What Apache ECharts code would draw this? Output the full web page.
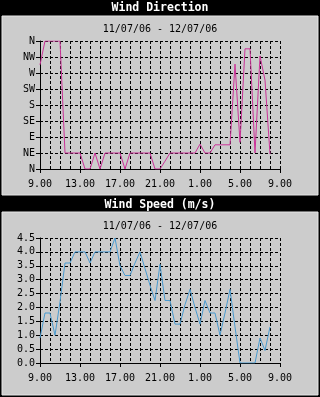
<!DOCTYPE html>
<html><head><meta charset="utf-8">
<script src="https://cdn.jsdelivr.net/npm/echarts@6/dist/echarts.min.js"></script>
<style>html,body{margin:0;padding:0;background:#000}#c{width:320px;height:397px}</style>
</head><body><div id="c"></div>
<script>
// hours after 09:00 on 11/07/06
var hours = [0,0.5,1,1.5,2,2.5,3,3.5,4,4.5,5,5.5,6,6.5,7,7.5,8,8.5,9,9.5,10,10.5,11,11.5,12,12.5,13,13.5,14,14.5,15,15.5,16,16.5,17,17.5,18,18.5,19,19.5,20,20.5,21,21.5,22,22.5,23];
var dirValues = [293,360,360,360,360,45,45,45,45,0,0,45,0,45,45,45,45,0,45,45,45,45,45,0,0,22,45,45,45,45,45,45,70,45,45,68,68,68,68,295,75,338,338,45,318,250,42];
var speedValues = [0.9,1.8,1.8,1.0,2.2,3.6,3.6,4.0,4.0,4.0,3.6,4.0,4.0,4.0,4.0,4.5,3.5,3.15,3.15,3.6,4.0,3.4,2.8,2.25,3.55,2.25,2.25,1.4,1.4,2.1,2.65,2.0,1.4,2.25,1.8,1.8,1.0,1.8,2.65,1.3,0,0,0,0,0.9,0.45,1.3];
var xTickLabels = ['9.00','13.00','17.00','21.00','1.00','5.00','9.00'];
var dirLabels = ['N','NE','E','SE','S','SW','W','NW','N'];
var titles = ['Wind Direction','Wind Speed (m/s)'];
var subtitle = '11/07/06 - 12/07/06';

var mono = 'DejaVu Sans Mono';
function pair(a,b){return a.map(function(v,i){return [v,b[i]];});}
function gridAxis(gi){
  return {type:'value',gridIndex:gi,min:0,max:24,interval:1,
    axisLine:{show:true,onZero:false,lineStyle:{color:'#000',width:1}},
    axisTick:{show:false},axisLabel:{show:false},
    splitLine:{show:true,lineStyle:{color:'#000',type:[3,2],width:1}}};
}
function labelAxis(gi){
  return {type:'value',gridIndex:gi,position:'bottom',min:0,max:24,interval:4,
    axisLine:{show:false,onZero:false},
    axisTick:{show:true,length:4,lineStyle:{color:'#000'}},
    axisLabel:{margin:10,color:'#000',fontFamily:mono,fontSize:10,
      formatter:function(v){return xTickLabels[Math.round(v/4)];}},
    splitLine:{show:false}};
}
var chart = echarts.init(document.getElementById('c'),null,{renderer:'canvas'});
chart.setOption({
  animation:false,
  backgroundColor:'#000',
  graphic:[
    {type:'rect',shape:{x:2,y:16,width:316,height:179},style:{fill:'#cccccc',stroke:'#e6e6e6',lineWidth:1},z:-10},
    {type:'rect',shape:{x:2,y:212,width:316,height:183},style:{fill:'#cccccc',stroke:'#e6e6e6',lineWidth:1},z:-10},
    {type:'text',x:160,y:8,style:{text:titles[0],fill:'#fff',font:'bold 11.5px '+mono,textAlign:'center',textVerticalAlign:'middle'}},
    {type:'text',x:160,y:205,style:{text:titles[1],fill:'#fff',font:'bold 11.5px '+mono,textAlign:'center',textVerticalAlign:'middle'}},
    {type:'text',x:160,y:29,style:{text:subtitle,fill:'#000',font:'10px '+mono,textAlign:'center',textVerticalAlign:'middle'}},
    {type:'text',x:160,y:226,style:{text:subtitle,fill:'#000',font:'10px '+mono,textAlign:'center',textVerticalAlign:'middle'}}
  ],
  grid:[
    {left:40,top:41,width:240,height:128},
    {left:40,top:238,width:240,height:125}
  ],
  xAxis:[gridAxis(0),gridAxis(1),labelAxis(0),labelAxis(1)],
  yAxis:[
    {type:'value',gridIndex:0,min:0,max:360,interval:45,
      axisLine:{show:true,lineStyle:{color:'#000'}},
      axisTick:{show:true,length:4,lineStyle:{color:'#000'}},
      axisLabel:{margin:5,color:'#000',fontFamily:mono,fontSize:10,
        formatter:function(v){return dirLabels[Math.round(v/45)];}},
      splitLine:{show:true,lineStyle:{color:'#000',type:[3,2]}}},
    {type:'value',gridIndex:1,min:0,max:4.5,interval:0.5,
      axisLine:{show:true,lineStyle:{color:'#000'}},
      axisTick:{show:true,length:4,lineStyle:{color:'#000'}},
      axisLabel:{margin:5,color:'#000',fontFamily:mono,fontSize:10,
        formatter:function(v){return v.toFixed(1);}},
      splitLine:{show:true,lineStyle:{color:'#000',type:[3,2]}}}
  ],
  series:[
    {type:'line',xAxisIndex:0,yAxisIndex:0,data:pair(hours,dirValues),showSymbol:false,
      lineStyle:{color:'#cc3399',width:1},itemStyle:{color:'#cc3399'}},
    {type:'line',xAxisIndex:1,yAxisIndex:1,data:pair(hours,speedValues),showSymbol:false,
      lineStyle:{color:'#4a9bd0',width:1},itemStyle:{color:'#4a9bd0'}}
  ]
});
</script></body></html>
